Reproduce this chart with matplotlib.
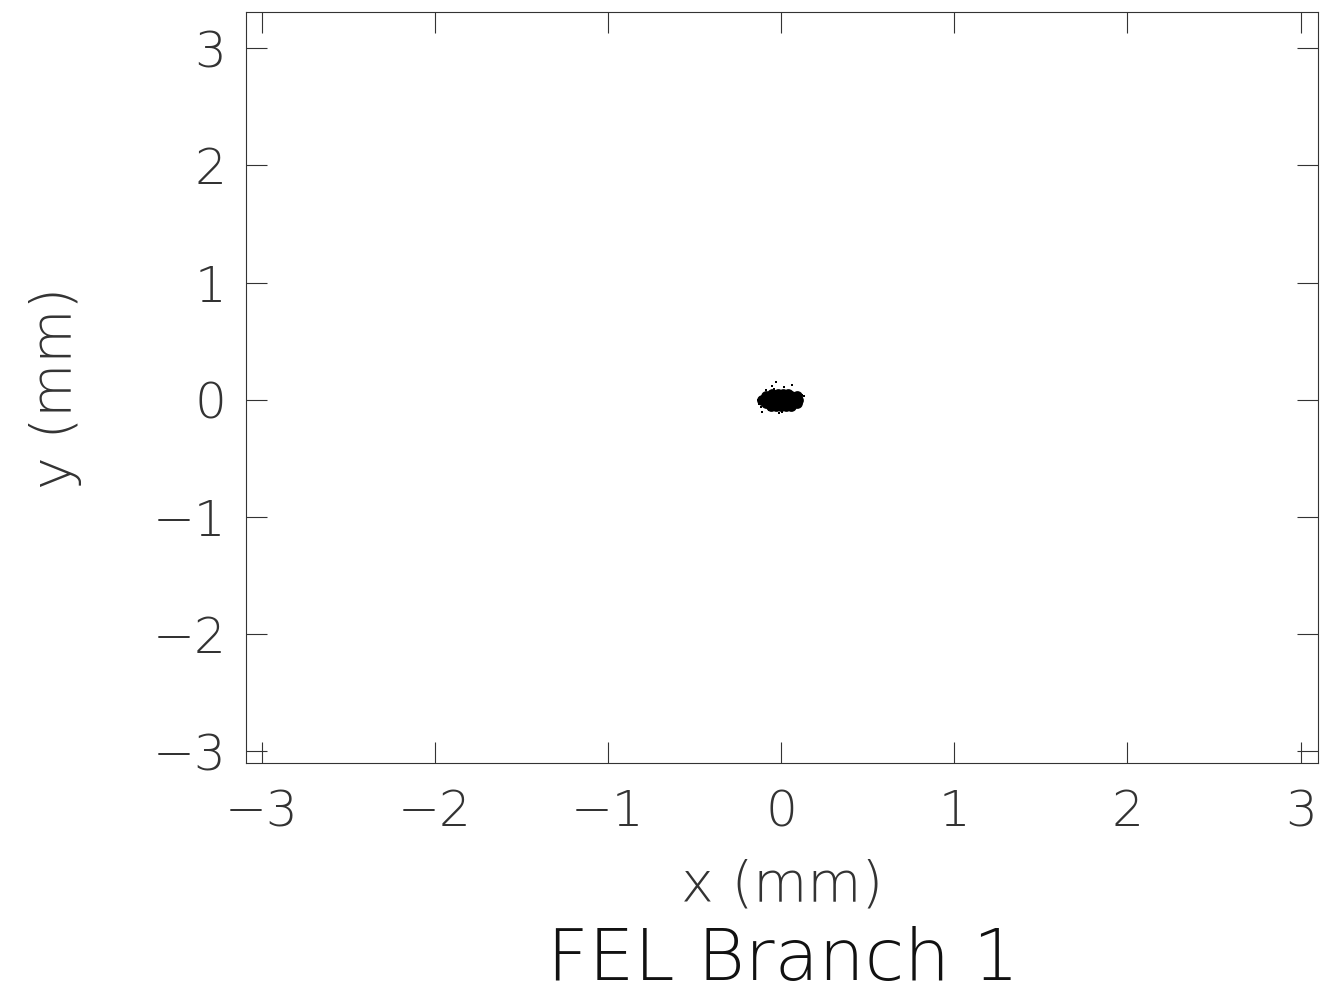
import numpy as np
import matplotlib.pyplot as plt

# dense core of the beam spot (mm)
core_x = [-0.11, -0.08, -0.05, -0.02, 0.01, 0.04, 0.07, 0.10,
          -0.09, -0.06, -0.03, 0.00, 0.03, 0.06, 0.09,
          -0.09, -0.06, -0.03, 0.00, 0.03, 0.06, 0.09,
          -0.05, -0.02, 0.01, 0.04,
          -0.06, -0.03, 0.00, 0.03, 0.06]
core_y = [0.00, 0.00, 0.00, 0.00, 0.00, 0.00, 0.00, 0.00,
          0.03, 0.03, 0.03, 0.03, 0.03, 0.03, 0.03,
          -0.03, -0.03, -0.03, -0.03, -0.03, -0.03, -0.03,
          0.05, 0.05, 0.05, 0.05,
          -0.05, -0.05, -0.05, -0.05, -0.05]

# stray particles around the core
halo_x = [-0.03, 0.065, -0.05, 0.017, 0.094, 0.133, -0.117, -0.108,
          -0.012, 0.008, -0.069, 0.056, 0.114, -0.131, -0.088,
          0.12, -0.125, 0.03, -0.04, 0.08]
halo_y = [0.148, 0.128, 0.114, 0.108, 0.062, 0.034, -0.063, -0.100,
          -0.114, -0.108, -0.085, -0.080, -0.028, 0.0, 0.08,
          0.045, -0.035, -0.09, 0.095, -0.06]

xticks = [-3, -2, -1, 0, 1, 2, 3]
yticks = [-3, -2, -1, 0, 1, 2, 3]

plt.rcParams['font.family'] = 'DejaVu Sans'
plt.rcParams['font.weight'] = 'light'
plt.rcParams['axes.labelweight'] = 'light'

fig = plt.figure(figsize=(13.31, 9.99), dpi=100)
ax = fig.add_axes([0.1848, 0.2362, 0.8054, 0.7518])

ax.scatter(core_x, core_y, s=60, c='black', marker='o', linewidths=0)
ax.scatter(halo_x, halo_y, s=2.5, c='black', marker='s', linewidths=0)

ax.set_xlim(-3.09, 3.10)
ax.set_ylim(-3.10, 3.31)
ax.set_xticks(xticks)
ax.set_yticks(yticks)
ax.tick_params(direction='in', length=15, width=0.8, color='#333333',
               top=True, right=True, labelsize=36, labelcolor='#333333')
ax.tick_params(axis='x', pad=18)
ax.tick_params(axis='y', pad=14)
for s in ax.spines.values():
    s.set_linewidth(0.8)
    s.set_color('#333333')

ax.set_xlabel('x (mm)', fontsize=40, color='#333333', labelpad=16)
ax.set_ylabel('y (mm)', fontsize=40, color='#333333', labelpad=50)
fig.text(0.588, 0.004, 'FEL Branch 1', fontsize=52, color='#111111',
         ha='center', va='bottom')

plt.savefig('out.png', dpi=100)
